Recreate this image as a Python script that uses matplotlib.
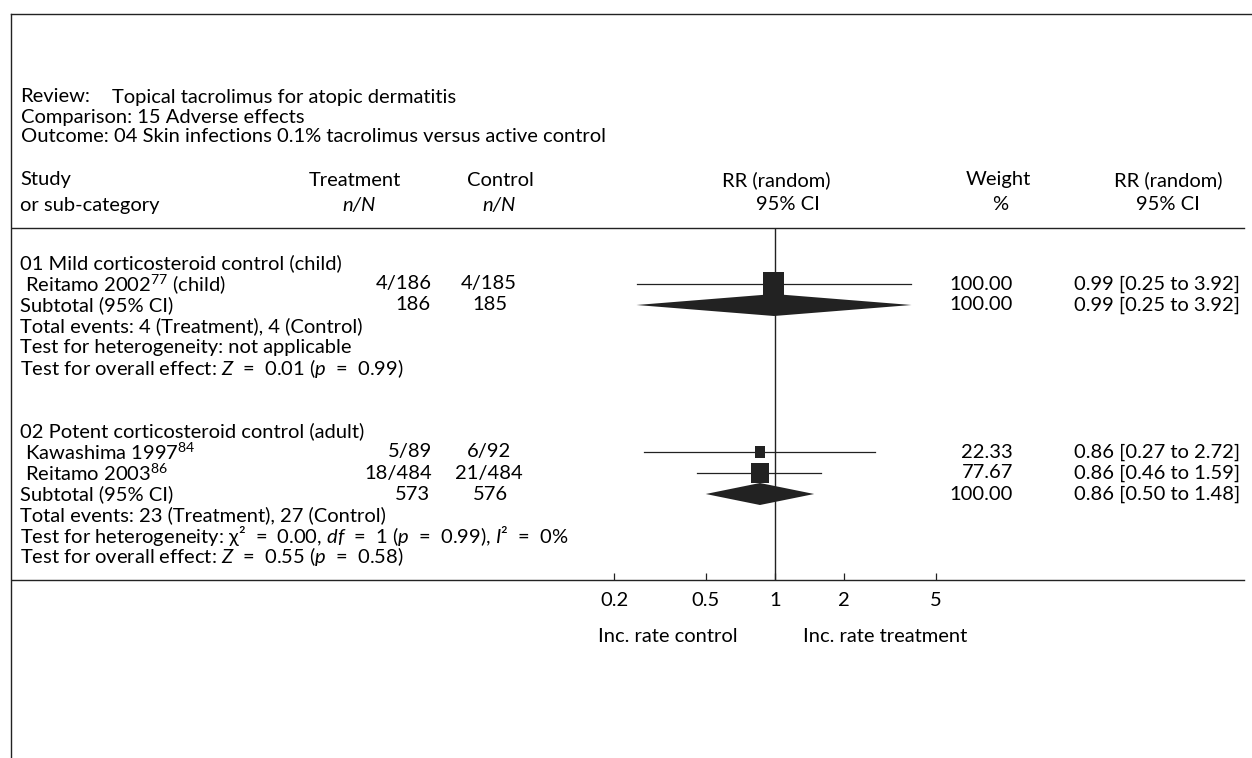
import matplotlib

matplotlib.use("Agg")
import matplotlib.pyplot as plt
from matplotlib.patches import Polygon, Rectangle

plt.rcParams["font.family"] = ["Lato", "DejaVu Sans"]
plt.rcParams["mathtext.fontset"] = "custom"
plt.rcParams["mathtext.rm"] = "Lato"
plt.rcParams["mathtext.it"] = "Lato:italic"

# header block
review_title = "Topical tacrolimus for atopic dermatitis"
comparison_title = "15 Adverse effects"
outcome_title = "04 Skin infections 0.1% tacrolimus versus active control"

# per-group study rows
group_names = ["01 Mild corticosteroid control (child)", "02 Potent corticosteroid control (adult)"]
study_labels = [["Reitamo 2002"], ["Kawashima 1997", "Reitamo 2003"]]
study_refs = [["77"], ["84", "86"]]
study_suffix = [[" (child)"], ["", ""]]
treat_nN = [["4/186"], ["5/89", "18/484"]]
control_nN = [["4/185"], ["6/92", "21/484"]]
weights = [[100.00], [22.33, 77.67]]
rr = [[0.99], [0.86, 0.86]]
ci_low = [[0.25], [0.27, 0.46]]
ci_high = [[3.92], [2.72, 1.59]]

# per-group pooled rows
sub_treat_total = [186, 573]
sub_control_total = [185, 576]
sub_weight = [100.00, 100.00]
sub_rr = [0.99, 0.86]
sub_low = [0.25, 0.50]
sub_high = [3.92, 1.48]
events_treat = [4, 23]
events_control = [4, 27]

EQ = " \u2009\u2009=\u2009\u2009 "
heterogeneity = [
    "Test for heterogeneity: not applicable",
    "Test for heterogeneity: \u03c7\u00b2" + EQ + "0.00, $\\it{df}$" + EQ + "1 ($\\it{p}$" + EQ
    + "0.99), $\\it{I}$\u00b2" + EQ + "0%",
]
overall_effect = [
    "Test for overall effect: $\\it{Z}$" + EQ + "0.01 ($\\it{p}$" + EQ + "0.99)",
    "Test for overall effect: $\\it{Z}$" + EQ + "0.55 ($\\it{p}$" + EQ + "0.58)",
]

tick_values = [0.2, 0.5, 1, 2, 5]
tick_labels = ["0.2", "0.5", "1", "2", "5"]

W, H = 1252, 758
FS = 14.5
ROW = 21.0

fig = plt.figure(figsize=(W / 100, H / 100), dpi=100)
base = fig.add_axes([0, 0, 1, 1])
base.set_xlim(0, W)
base.set_ylim(H, 0)
base.axis("off")

# forest panel: log scale, 1 at x=775, one decade = 230 px
x_one, decade = 775.0, 230.0
px_left = x_one - decade
px_right = x_one + decade
y_top, y_axis = 228.0, 580.0
forest = fig.add_axes(
    [px_left / W, 1 - y_axis / H, (px_right - px_left) / W, (y_axis - y_top) / H]
)
forest.set_xscale("log")
forest.set_xlim(0.1, 10.0)
forest.set_ylim(y_axis, y_top)
forest.patch.set_alpha(0)
for s in forest.spines.values():
    s.set_visible(False)
forest.set_yticks([])
forest.set_xticks(tick_values)
forest.set_xticklabels(tick_labels)
forest.minorticks_off()
forest.tick_params(axis="x", direction="in", length=5, width=0.9, labelsize=FS, pad=9, color="#222222")

ink = "#222222"
line_kw = dict(color=ink, lw=1.0)

# frame
base.plot([11, W], [14, 14], **line_kw)
base.plot([11, 11], [14, H], **line_kw)

# title rows
base.text(20, 97, "Review:", fontsize=FS, va="center")
base.text(112, 97, review_title, fontsize=FS, va="center")
base.text(21, 117, "Comparison: " + comparison_title, fontsize=FS, va="center")
base.text(21, 137, "Outcome:", fontsize=FS, va="center")
base.text(114, 137, outcome_title, fontsize=FS, va="center")

# column headers
hy1, hy2 = 180, 205
base.text(20, hy1, "Study", fontsize=FS, va="center")
base.text(20, hy2, "or sub-category", fontsize=FS, va="center")
base.text(355, hy1, "Treatment", fontsize=FS, va="center", ha="center")
base.text(359, hy2, "n/N", fontsize=FS, va="center", ha="center", style="italic")
base.text(500, hy1, "Control", fontsize=FS, va="center", ha="center")
base.text(499, hy2, "n/N", fontsize=FS, va="center", ha="center", style="italic")
base.text(776, hy1, "RR (random)", fontsize=FS, va="center", ha="center")
base.text(788, hy2, "95% CI", fontsize=FS, va="center", ha="center")
base.text(998, hy1, "Weight", fontsize=FS, va="center", ha="center")
base.text(1000, hy2, "%", fontsize=FS, va="center", ha="center")
base.text(1168, hy1, "RR (random)", fontsize=FS, va="center", ha="center")
base.text(1168, hy2, "95% CI", fontsize=FS, va="center", ha="center")

base.plot([12, 1244], [y_top, y_top], **line_kw)
base.plot([12, 1244], [y_axis, y_axis], **line_kw)
forest.axvline(1, color=ink, lw=1.0)

col_treat, col_ctrl, col_weight, col_ci = 432, 489, 1013, 1240
max_side = 21.0  # marker width for a 100% weight study, px


def ci_text(est, lo, hi):
    return f"{est:.2f} [{lo:.2f} to {hi:.2f}]"


y = 263.0
for g in range(len(group_names)):
    base.text(20, y, group_names[g], fontsize=FS, va="center")
    y += ROW
    for k in range(len(study_labels[g])):
        label = " " + study_labels[g][k] + r"$^{\mathregular{" + study_refs[g][k] + "}}$" + study_suffix[g][k]
        base.text(20, y, label, fontsize=FS, va="center")
        base.text(col_treat, y, treat_nN[g][k], fontsize=FS, va="center", ha="right")
        base.text(col_ctrl, y, control_nN[g][k], fontsize=FS, va="center", ha="center")
        base.text(col_weight, y, f"{weights[g][k]:.2f}", fontsize=FS, va="center", ha="right")
        base.text(col_ci, y, ci_text(rr[g][k], ci_low[g][k], ci_high[g][k]), fontsize=FS, va="center", ha="right")
        forest.plot([ci_low[g][k], ci_high[g][k]], [y, y], color=ink, lw=0.9)
        side = max_side * (weights[g][k] / 100.0) ** 0.5
        tall = side * 1.12
        half = side / 2 / decade
        x0 = rr[g][k] / 10 ** half
        forest.add_patch(
            Rectangle((x0, y - tall / 2), rr[g][k] * 10 ** half - x0, tall, color=ink, lw=0, zorder=3)
        )
        y += ROW
    base.text(20, y, "Subtotal (95% CI)", fontsize=FS, va="center")
    base.text(col_treat - 2, y, str(sub_treat_total[g]), fontsize=FS, va="center", ha="right")
    base.text(col_ctrl + 1, y, str(sub_control_total[g]), fontsize=FS, va="center", ha="center")
    base.text(col_weight, y, f"{sub_weight[g]:.2f}", fontsize=FS, va="center", ha="right")
    base.text(col_ci, y, ci_text(sub_rr[g], sub_low[g], sub_high[g]), fontsize=FS, va="center", ha="right")
    forest.add_patch(
        Polygon(
            [(sub_low[g], y), (sub_rr[g], y - 11), (sub_high[g], y), (sub_rr[g], y + 11)],
            closed=True,
            color=ink,
            lw=0,
            zorder=3,
        )
    )
    y += ROW
    base.text(20, y, f"Total events: {events_treat[g]} (Treatment), {events_control[g]} (Control)",
              fontsize=FS, va="center")
    y += ROW
    base.text(20, y, heterogeneity[g], fontsize=FS, va="center")
    y += ROW
    base.text(20, y, overall_effect[g], fontsize=FS, va="center")
    y += 3 * ROW

base.text(668, 637, "Inc. rate control", fontsize=FS, va="center", ha="center")
base.text(885, 637, "Inc. rate treatment", fontsize=FS, va="center", ha="center")

fig.savefig("out.png", dpi=100)
